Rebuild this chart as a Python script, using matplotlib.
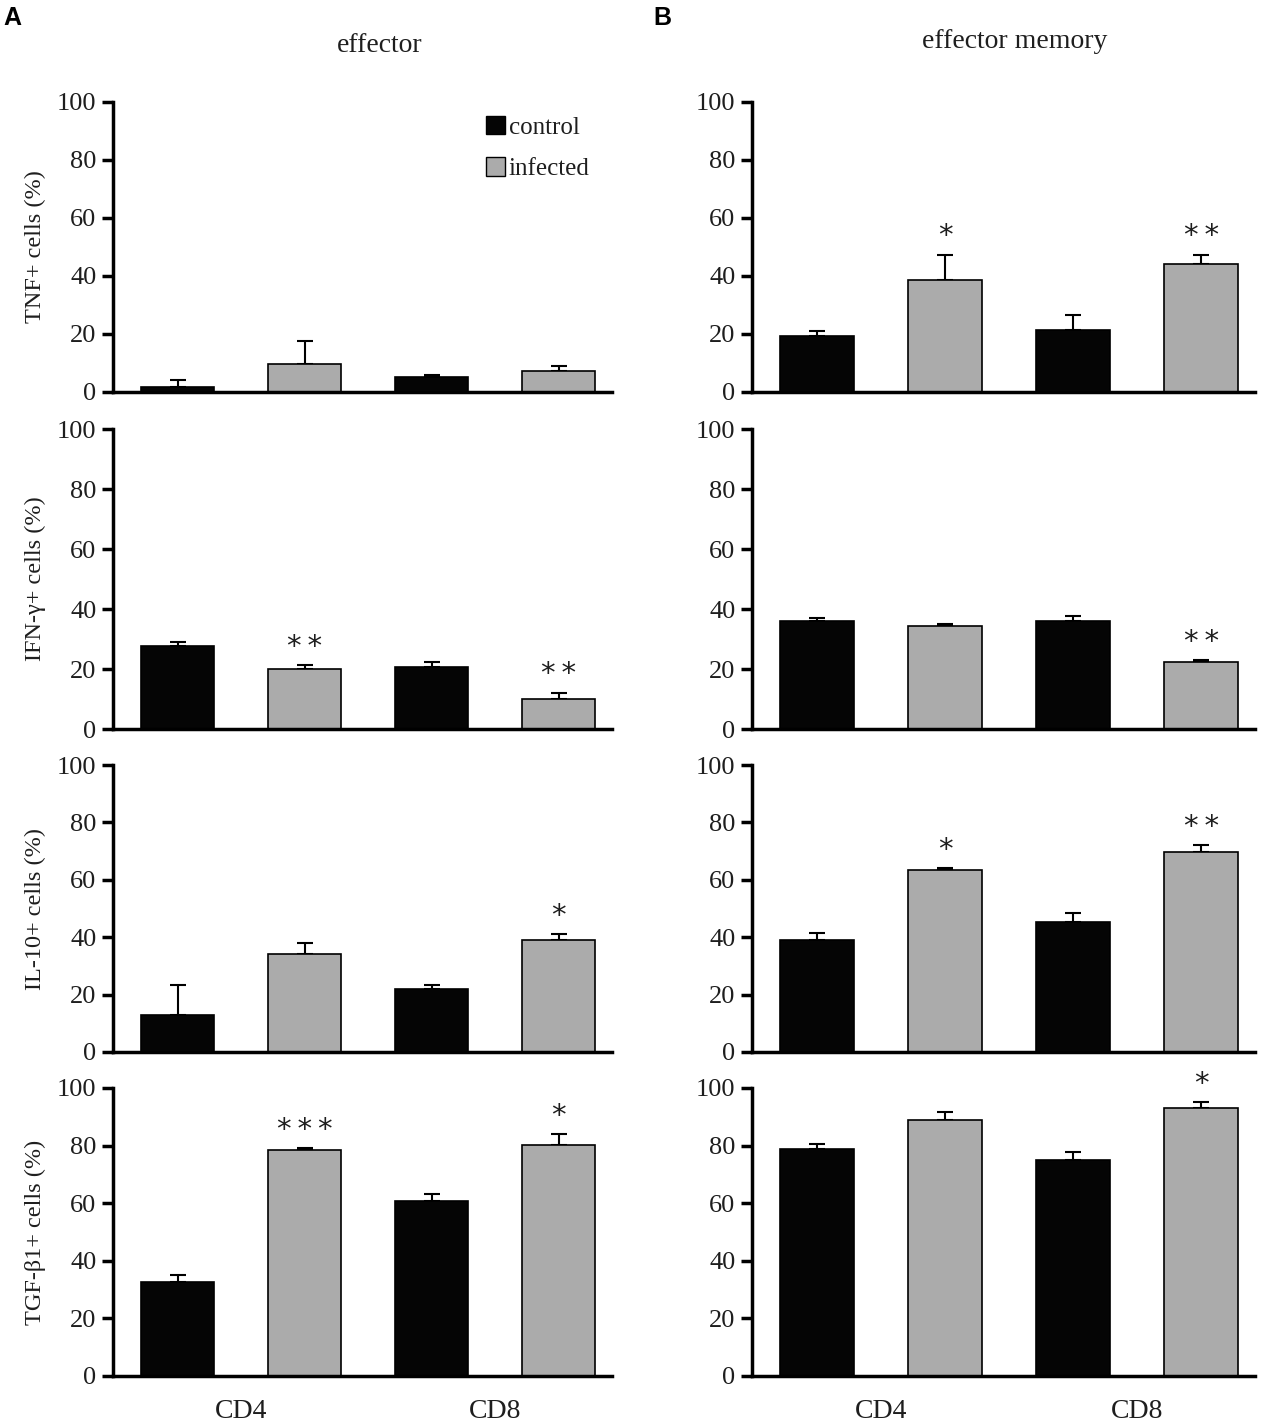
import numpy as np
import matplotlib
matplotlib.use("Agg")
import matplotlib.pyplot as plt
from matplotlib.patches import Patch

plt.rcParams['font.family'] = ['Liberation Serif', 'DejaVu Serif']

# ------------------ DATA -------------------------------------
groups = ["CD4", "CD8"]
series = ["control", "infected"]
markers = ["TNF+ cells (%)", "IFN-\u03b3+ cells (%)", "IL-10+ cells (%)", "TGF-\u03b21+ cells (%)"]

# bar order: CD4 control, CD4 infected, CD8 control, CD8 infected
eff_mean = [[1.7, 9.6, 5.3, 7.3],
            [27.7, 20.0, 20.7, 10.0],
            [12.9, 34.1, 22.0, 39.0],
            [32.6, 78.5, 60.8, 80.2]]
eff_err = [[2.5, 7.9, 0.6, 1.6],
           [1.3, 1.3, 1.6, 2.0],
           [10.4, 3.9, 1.3, 2.1],
           [2.4, 0.7, 2.4, 3.8]]
eff_sig = [["", "", "", ""],
           ["", "**", "", "**"],
           ["", "", "", "*"],
           ["", "***", "", "*"]]

mem_mean = [[19.3, 38.7, 21.3, 44.2],
            [36.0, 34.3, 36.0, 22.3],
            [39.0, 63.4, 45.3, 69.7],
            [78.8, 88.9, 75.0, 93.0]]
mem_err = [[1.7, 8.6, 5.4, 3.1],
           [1.0, 0.7, 1.7, 0.7],
           [2.5, 0.7, 3.1, 2.4],
           [1.8, 2.8, 2.8, 2.1]]
mem_sig = [["", "*", "", "**"],
           ["", "", "", "**"],
           ["", "*", "", "**"],
           ["", "", "", "*"]]

W, H = 1261, 1423
ctrl_color = "#050505"
inf_color = "#ababab"
txt_color = "#1e1e1e"

fig = plt.figure(figsize=(W / 100, H / 100), dpi=100)

# axes pixel boxes (left, right) and rows (top, bottom)
cols = [(113, 612), (752, 1255)]
rows = [(102, 392), (429, 729), (765, 1052), (1088, 1376)]


def add_ax(x0, x1, y0, y1):
    return fig.add_axes([x0 / W, 1 - y1 / H, (x1 - x0) / W, (y1 - y0) / H])


def draw_panel(ax, mean, err, sig, ylabel=None, xlabels=False):
    x = np.arange(4)
    colors = [ctrl_color, inf_color, ctrl_color, inf_color]
    ax.bar(x, mean, width=0.575, color=colors, edgecolor="black", linewidth=1.2, zorder=2)
    ax.errorbar(x, mean, yerr=[np.zeros(4), err], fmt="none", ecolor="black",
                elinewidth=1.5, capsize=6, capthick=1.5, zorder=1)
    for xi, m, e, s in zip(x, mean, err, sig):
        if s:
            ax.text(xi, m + e + 1.5, "\u2009".join(s), ha="center", va="bottom",
                    fontsize=21, color=txt_color, clip_on=False,
                    family=["DejaVu Sans"])
    ax.set_ylim(0, 100)
    ax.set_xlim(-0.51, 3.42)
    ax.set_yticks(np.arange(0, 101, 20))
    ax.tick_params(axis="y", direction="out", length=8, width=2.5, labelsize=19,
                   labelcolor=txt_color, pad=4)
    ax.set_xticks([])
    for sp in ["top", "right"]:
        ax.spines[sp].set_visible(False)
    ax.spines["left"].set_linewidth(2.5)
    ax.spines["bottom"].set_linewidth(2.5)
    if ylabel:
        ax.set_ylabel(ylabel, fontsize=17.5, color=txt_color, labelpad=8)
    if xlabels:
        for i, g in enumerate(groups):
            ax.text(2 * i + 0.5, -8, g, ha="center", va="top", fontsize=20,
                    color=txt_color, clip_on=False)


for r in range(4):
    axA = add_ax(cols[0][0], cols[0][1], rows[r][0], rows[r][1])
    draw_panel(axA, eff_mean[r], eff_err[r], eff_sig[r], ylabel=markers[r], xlabels=(r == 3))
    axB = add_ax(cols[1][0], cols[1][1], rows[r][0], rows[r][1])
    draw_panel(axB, mem_mean[r], mem_err[r], mem_sig[r], xlabels=(r == 3))
    if r == 0:
        handles = [Patch(facecolor=ctrl_color, edgecolor="black"),
                   Patch(facecolor=inf_color, edgecolor="black")]
        axA.legend(handles, series, loc="upper right", bbox_to_anchor=(1.0, 1.03),
                   frameon=False, fontsize=18, handlelength=0.75, handleheight=0.75,
                   handletextpad=0.15, labelspacing=0.75, labelcolor=txt_color)

fig.text(380 / W, 1 - 45 / H, "effector", ha="center", va="center", fontsize=20, color=txt_color)
fig.text(1015 / W, 1 - 42 / H, "effector memory", ha="center", va="center", fontsize=20, color=txt_color)
fig.text(12 / W, 1 - 18 / H, "A", ha="center", va="center", fontsize=18, fontweight="bold",
         family=["Liberation Sans", "DejaVu Sans"])
fig.text(662 / W, 1 - 18 / H, "B", ha="center", va="center", fontsize=18, fontweight="bold",
         family=["Liberation Sans", "DejaVu Sans"])

fig.savefig("out.png", dpi=100)
